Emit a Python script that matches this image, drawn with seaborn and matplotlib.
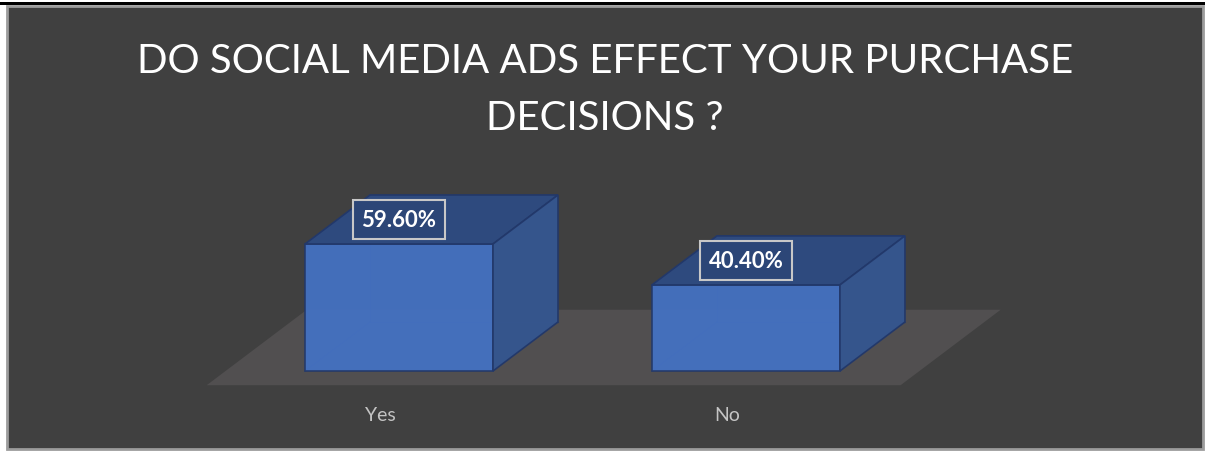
import matplotlib
matplotlib.use("Agg")
import matplotlib.pyplot as plt
from matplotlib.patches import Polygon, Rectangle
import seaborn as sns

# Survey answers
categories = ["Yes", "No"]
shares = [59.60, 40.40]
title_lines = ["DO SOCIAL MEDIA ADS EFFECT YOUR PURCHASE", "DECISIONS ?"]

W, H, DPI = 1205, 452, 100

sns.set_theme(style="white")
plt.rcParams["font.family"] = ["Lato", "DejaVu Sans"]

fig = plt.figure(figsize=(W / DPI, H / DPI), dpi=DPI, facecolor="white")


def fx(px):
    return px / W


def fy(py):
    return 1 - py / H


# dark chart card and the rule above it (kept beneath the axes)
fig.patches.append(Rectangle((0, fy(6)), 1, fy(3) - fy(6), transform=fig.transFigure,
                             facecolor="black", edgecolor="none", zorder=-2))
fig.patches.append(Rectangle((fx(7), fy(450)), fx(1203) - fx(7), fy(7) - fy(450),
                             transform=fig.transFigure, facecolor="#404040",
                             edgecolor="#9c9c9c", linewidth=2, zorder=-2))

ax = fig.add_axes([0, 0, 1, 1])
ax.set_facecolor("none")

FRONT = "#4472C4"
TOP = "#2E4A7E"
SIDE = "#35568F"
EDGE = "#22386A"
BAR_W = 0.5418
DX, DY = 0.1873, 23.0  # depth offset of the 3D boxes (data units)

sns.barplot(x=categories, y=shares, width=BAR_W, color=FRONT, saturation=1,
            edgecolor=EDGE, linewidth=1.2, alpha=0.93, ax=ax, zorder=4)
bars = list(ax.patches)

ax.set_xlim(-1.150, 2.323)
ax.set_ylim(-37.54, 174.57)
ax.set_axis_off()

# floor plane under the boxes
t0, t1 = -0.29, 1.25
xa, xb = -0.5, len(categories) - 0.5
floor = Polygon([(xa + t0 * DX, t0 * DY), (xb + t0 * DX, t0 * DY),
                 (xb + t1 * DX, t1 * DY), (xa + t1 * DX, t1 * DY)],
                closed=True, facecolor="#514F50", edgecolor="none", zorder=1)
ax.add_patch(floor)

for bar, val in zip(bars, shares):
    x0, w, h = bar.get_x(), bar.get_width(), bar.get_height()
    # hidden back edges, seen faintly through the front face
    for seg in [((x0 + DX, DY), (x0 + DX, h + DY)),
                ((x0 + DX, DY), (x0 + w + DX, DY)),
                ((x0, 0), (x0 + DX, DY))]:
        ax.plot(*zip(*seg), color=EDGE, lw=1.0, alpha=0.5, zorder=3)
    top = Polygon([(x0, h), (x0 + w, h), (x0 + w + DX, h + DY), (x0 + DX, h + DY)],
                  closed=True, facecolor=TOP, edgecolor=EDGE, lw=1.2, zorder=5)
    side = Polygon([(x0 + w, 0), (x0 + w + DX, DY), (x0 + w + DX, h + DY), (x0 + w, h)],
                   closed=True, facecolor=SIDE, edgecolor=EDGE, lw=1.2, alpha=0.97, zorder=5)
    ax.add_patch(top)
    ax.add_patch(side)
    ax.text(x0 + w / 2, h + DY / 2, f"{val:.2f}%", ha="center", va="center",
            color="white", fontsize=16, fontweight="bold", zorder=7,
            bbox=dict(boxstyle="square,pad=0.4", facecolor="#2C4677",
                      edgecolor="#C8C8C8", linewidth=1.5))

for i, cat in enumerate(categories):
    ax.text(i + t0 * DX, -20.6, cat, ha="center", va="center",
            color="#C4C4C4", fontsize=14, zorder=6)

fig.text(fx(605), fy(73), title_lines[0], ha="center", va="baseline",
         color="white", fontsize=29)
fig.text(fx(605), fy(130), title_lines[1], ha="center", va="baseline",
         color="white", fontsize=29)

fig.savefig("out.png", dpi=DPI, facecolor="white")
